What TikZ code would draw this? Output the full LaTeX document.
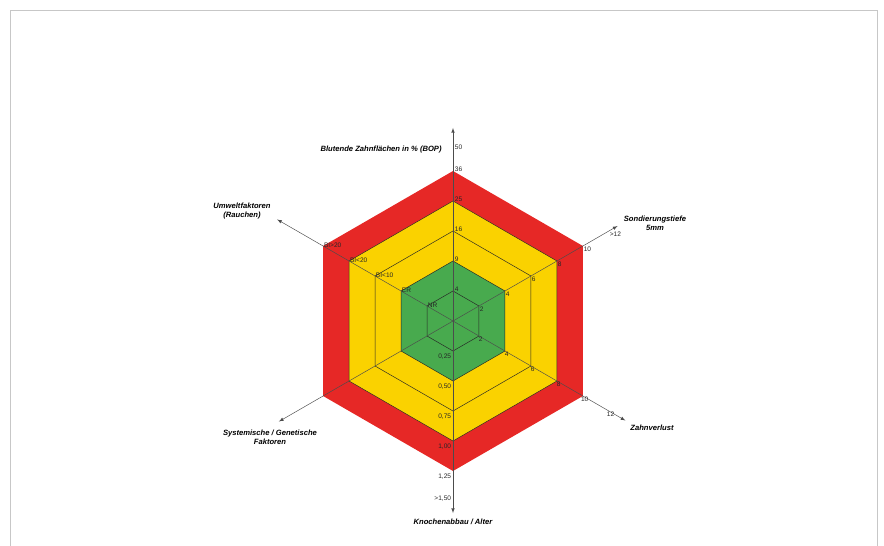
\documentclass[tikz,border=0pt]{standalone}
\usepackage{fontspec}
\setsansfont{Liberation Sans}
\definecolor{riskred}{RGB}{230,40,38}
\definecolor{riskyellow}{RGB}{250,210,0}
\definecolor{riskgreen}{RGB}{72,170,78}
\tikzset{
  axistitle/.style={font=\sffamily\bfseries\itshape\fontsize{6.5}{7.5}\selectfont,align=center,inner sep=1pt},
  ticklabel/.style={font=\sffamily\fontsize{5.6}{6.5}\selectfont,color=black!85,inner sep=0.6pt},
  ring/.style={line width=0.4pt,color=black!85},
  spoke/.style={line width=0.4pt,color=black!70,->},
}
\begin{document}
\begin{tikzpicture}[>=latex,x=0.3mm,y=0.3mm]
\useasboundingbox (-453,-224) rectangle (431,321);
\draw[color=black!22,line width=0.6pt] (-443,-260) rectangle (424,311);
% risk zones
\foreach \r/\c in {150/riskred,120/riskyellow,60/riskgreen}
  \fill[color=\c] (90:\r)--(30:\r)--(-30:\r)--(-90:\r)--(-150:\r)--(150:\r)--cycle;
\foreach \r in {30,60,90,120}
  \draw[ring] (90:\r)--(30:\r)--(-30:\r)--(-90:\r)--(-150:\r)--(150:\r)--cycle;
% axes
\coordinate (c) at (0,0);
\coordinate (bopend) at (90:193);
\coordinate (stend) at (30:190);
\coordinate (zvend) at (-30:199);
\coordinate (kaend) at (-90:192);
\coordinate (sgend) at (-150:201);
\coordinate (uwend) at (150:203);
\foreach \e in {bopend,stend,zvend,kaend,sgend,uwend}
  \draw[spoke] (c)--(\e);
% axis titles
\node[axistitle,anchor=east] (bop) at (-10,171) {Blutende Zahnfl\"achen in \% (BOP)};
\node[axistitle] (st) at (202,98) {Sondierungstiefe\\5mm};
\node[axistitle,anchor=west] (zv) at (176,-107) {Zahnverlust};
\node[axistitle] (ka) at (0,-201) {Knochenabbau / Alter};
\node[axistitle] (sg) at (-183,-116) {Systemische / Genetische\\Faktoren};
\node[axistitle] (uw) at (-211,110) {Umweltfaktoren\\(Rauchen)};
% scale values
\foreach \r/\t in {30/4,60/9,90/16,120/25,150/36,172/50}
  \node[ticklabel,anchor=west] (bop\r) at (1,\r+2) {\t};
\foreach \r/\t in {30/2,60/4,90/6,120/8,150/10,180/{>12}}
  \node[ticklabel,anchor=north west] (st\r) at (30:\r) {\t};
\foreach \r/\t in {30/2,60/4,90/6,120/8,150/10,180/12}
  \node[ticklabel,anchor=north,xshift=1.5pt] (zv\r) at (-30:\r) {\t};
\foreach \r/\t in {30/{0,25},60/{0,50},90/{0,75},120/{1,00},150/{1,25},172/{>1,50}}
  \node[ticklabel,anchor=north east] (ka\r) at (-1,-\r-2) {\t};
\foreach \r/\t in {30/NR,60/ER,90/{BI<10},120/{BI<20},150/{BI>20}}
  \node[ticklabel,anchor=west,yshift=1pt] (uw\r) at (150:\r) {\t};
\end{tikzpicture}
\end{document}
